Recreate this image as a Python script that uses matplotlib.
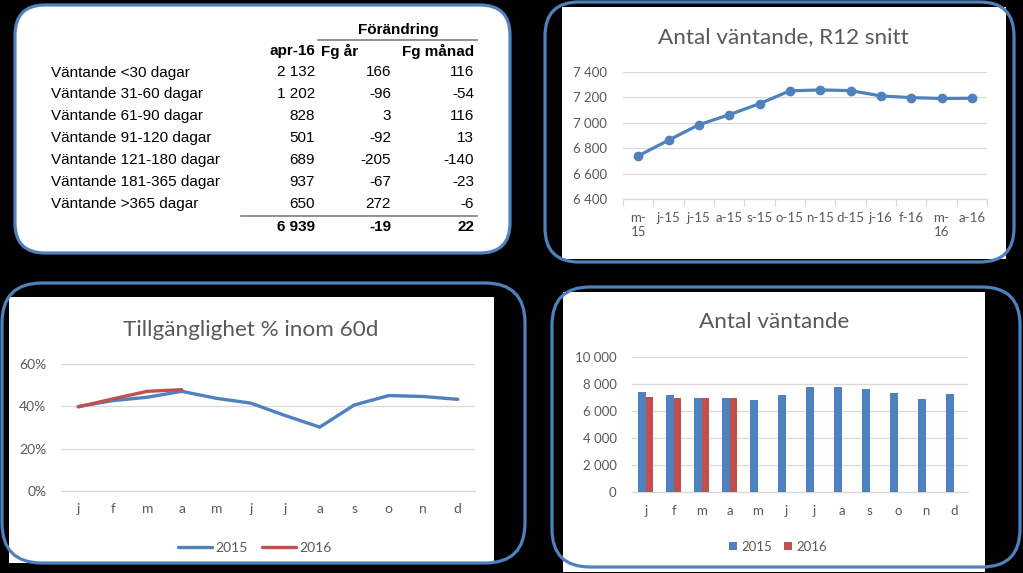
import matplotlib
matplotlib.use('Agg')
import matplotlib.pyplot as plt
from matplotlib.patches import FancyBboxPatch, Rectangle
from matplotlib.ticker import FuncFormatter, MultipleLocator, FixedLocator
import numpy as np

# ---------------- data ----------------
table_rows = ['Väntande <30 dagar', 'Väntande 31-60 dagar', 'Väntande 61-90 dagar',
              'Väntande 91-120 dagar', 'Väntande 121-180 dagar', 'Väntande 181-365 dagar',
              'Väntande >365 dagar']
apr16 = [2132, 1202, 828, 501, 689, 937, 650]
fg_ar = [166, -96, 3, -92, -205, -67, 272]
fg_manad = [116, -54, 116, 13, -140, -23, -6]

r12_labels = ['m-\n15', 'j-15', 'j-15', 'a-15', 's-15', 'o-15', 'n-15', 'd-15',
              'j-16', 'f-16', 'm-\n16', 'a-16']
r12_values = [6740, 6863, 6984, 7063, 7149, 7250, 7257, 7252, 7210, 7197, 7190, 7192]

months = ['j', 'f', 'm', 'a', 'm', 'j', 'j', 'a', 's', 'o', 'n', 'd']
avail_2015 = [0.400, 0.428, 0.444, 0.472, 0.439, 0.416, 0.357, 0.302, 0.407, 0.452, 0.4475, 0.434]
avail_2016 = [0.398, 0.436, 0.472, 0.480]

waiting_2015 = [7383, 7136, 6938, 6958, 6765, 7136, 7753, 7753, 7605, 7309, 6889, 7259]
waiting_2016 = [7012, 6938, 6917, 6939]

series_names = ['2015', '2016']

# ---------------- style ----------------
BLUE = '#4F81BD'
RED = '#C0504D'
BORDER = '#4F81BD'
GRID = '#D9D9D9'
TXT = '#595959'
CHART_FONT = ['Lato', 'DejaVu Sans']
TABLE_FONT = ['Liberation Sans', 'DejaVu Sans']
TITLE_FS = 16.2

W, H = 1023, 573
fig = plt.figure(figsize=(W / 100, H / 100), dpi=100, facecolor='black')


def rect(x0, y0, x1, y1):
    return [x0 / W, 1 - y1 / H, (x1 - x0) / W, (y1 - y0) / H]


def fmt_num(v):
    return f'{int(round(v)):,}'.replace(',', ' ')


bg = fig.add_axes([0, 0, 1, 1], zorder=0)
bg.set_xlim(0, W)
bg.set_ylim(H, 0)
bg.axis('off')

ov = fig.add_axes([0, 0, 1, 1], zorder=10)
ov.set_xlim(0, W)
ov.set_ylim(H, 0)
ov.axis('off')
ov.patch.set_alpha(0)

# white chart backgrounds
bg.add_patch(FancyBboxPatch((15, 5), 495, 248, boxstyle='round,pad=0,rounding_size=30',
                            facecolor='white', edgecolor='none'))
bg.add_patch(Rectangle((562, 7), 444, 252, facecolor='white', edgecolor='none'))
bg.add_patch(Rectangle((9, 297), 485, 266, facecolor='white', edgecolor='none'))
bg.add_patch(Rectangle((563, 292), 422, 280, facecolor='white', edgecolor='none'))

# rounded borders
for (x0, y0, x1, y1, r) in [(15, 5, 510, 253, 30), (545, 2, 1014, 262, 34),
                            (2, 283, 525, 563, 40), (552, 287, 1020, 567, 38)]:
    ov.add_patch(FancyBboxPatch((x0, y0), x1 - x0, y1 - y0,
                                boxstyle=f'round,pad=0,rounding_size={r}',
                                facecolor='none', edgecolor=BORDER, linewidth=2.3))

# ---------------- table ----------------
tfs = 11
bg.text(398, 30, 'Förändring', ha='center', va='center', fontsize=tfs, fontweight='bold',
        family=TABLE_FONT, color='black')
bg.plot([318, 477], [40, 40], color='#7F7F7F', lw=1.2)
bg.text(315, 51, 'apr-16', ha='right', va='center', fontsize=tfs, fontweight='bold', family=TABLE_FONT)
bg.text(321, 51, 'Fg år', ha='left', va='center', fontsize=tfs, fontweight='bold', family=TABLE_FONT)
bg.text(474, 51, 'Fg månad', ha='right', va='center', fontsize=tfs, fontweight='bold', family=TABLE_FONT)
row_y0, row_dy = 72.5, 21.85
for i, name in enumerate(table_rows):
    y = row_y0 + i * row_dy
    bg.text(51, y, name, ha='left', va='center', fontsize=tfs, family=TABLE_FONT)
    bg.text(315, y, fmt_num(apr16[i]), ha='right', va='center', fontsize=tfs, family=TABLE_FONT)
    bg.text(391, y, fmt_num(fg_ar[i]), ha='right', va='center', fontsize=tfs, family=TABLE_FONT)
    bg.text(474, y, fmt_num(fg_manad[i]), ha='right', va='center', fontsize=tfs, family=TABLE_FONT)
bg.plot([241, 477], [216, 216], color='#7F7F7F', lw=1.2)
ty = 227
bg.text(315, ty, fmt_num(sum(apr16)), ha='right', va='center', fontsize=tfs, fontweight='bold', family=TABLE_FONT)
bg.text(391, ty, fmt_num(sum(fg_ar)), ha='right', va='center', fontsize=tfs, fontweight='bold', family=TABLE_FONT)
bg.text(474, ty, fmt_num(sum(fg_manad)), ha='right', va='center', fontsize=tfs, fontweight='bold', family=TABLE_FONT)


def style_axes(ax, ypad, xpad, fs=9.5):
    ax.set_facecolor('none')
    for s in ['top', 'right', 'left']:
        ax.spines[s].set_visible(False)
    ax.spines['bottom'].set_color(GRID)
    ax.spines['bottom'].set_linewidth(0.9)
    ax.grid(axis='y', color=GRID, linewidth=0.9)
    ax.set_axisbelow(True)
    ax.tick_params(axis='y', length=0, pad=ypad, labelsize=fs, labelcolor=TXT)
    ax.tick_params(axis='x', which='major', length=0, pad=xpad, labelsize=fs, labelcolor=TXT)
    for lab in ax.get_xticklabels() + ax.get_yticklabels():
        lab.set_family(CHART_FONT)


# ---------------- R12 line chart ----------------
ax1 = fig.add_axes(rect(623, 71.7, 987, 199.3), zorder=2)
x12 = np.arange(len(r12_values))
ax1.plot(x12, r12_values, color=BLUE, lw=2.3, marker='o', markersize=6, zorder=3)
ax1.set_xlim(-0.5, 11.5)
ax1.set_ylim(6400, 7400)
ax1.yaxis.set_major_locator(MultipleLocator(200))
ax1.yaxis.set_major_formatter(FuncFormatter(lambda v, p: fmt_num(v)))
ax1.set_xticks(x12)
ax1.set_xticklabels(r12_labels)
ax1.xaxis.set_minor_locator(FixedLocator(np.arange(-0.5, 12, 1.0)))
ax1.tick_params(axis='x', which='minor', length=5, color=GRID, width=0.9)
style_axes(ax1, ypad=11.5, xpad=9.5)
bg.text(783.5, 43, 'Antal väntande, R12 snitt', ha='center', va='baseline', fontsize=TITLE_FS,
        color=TXT, family=CHART_FONT)

# ---------------- availability line chart ----------------
ax2 = fig.add_axes(rect(61, 364.4, 475, 490.7), zorder=2)
xm = np.arange(len(months))
l1, = ax2.plot(xm, avail_2015, color=BLUE, lw=2.4, solid_capstyle='round')
l2, = ax2.plot(xm[:len(avail_2016)], avail_2016, color=RED, lw=2.4, solid_capstyle='round')
ax2.set_xlim(-0.5, 11.5)
ax2.set_ylim(0, 0.6)
ax2.yaxis.set_major_locator(MultipleLocator(0.2))
ax2.yaxis.set_major_formatter(FuncFormatter(lambda v, p: f'{v * 100:.0f}%'))
ax2.set_xticks(xm)
ax2.set_xticklabels(months)
style_axes(ax2, ypad=10.5, xpad=9, fs=10)
bg.text(251, 335.8, 'Tillgänglighet % inom 60d', ha='center', va='baseline', fontsize=TITLE_FS,
        color=TXT, family=CHART_FONT)
fig.legend([l1, l2], series_names, loc='center', bbox_to_anchor=(255 / W, 1 - 548 / H), ncol=2,
           frameon=False, handlelength=2.45, handletextpad=0.25, columnspacing=1.0,
           prop={'family': CHART_FONT, 'size': 10}, labelcolor=TXT)

# ---------------- waiting bar chart ----------------
ax3 = fig.add_axes(rect(631.7, 356.7, 967.7, 491.7), zorder=2)
bw = 0.27
b1 = ax3.bar(xm - bw / 2, waiting_2015, bw, color=BLUE, zorder=3)
b2 = ax3.bar(xm[:len(waiting_2016)] + bw / 2, waiting_2016, bw, color=RED, zorder=3)
ax3.set_xlim(-0.5, 11.5)
ax3.set_ylim(0, 10000)
ax3.yaxis.set_major_locator(MultipleLocator(2000))
ax3.yaxis.set_major_formatter(FuncFormatter(lambda v, p: fmt_num(v)))
ax3.set_xticks(xm)
ax3.set_xticklabels(months)
style_axes(ax3, ypad=10.8, xpad=9.5)
bg.text(774.3, 328.3, 'Antal väntande', ha='center', va='baseline', fontsize=TITLE_FS,
        color=TXT, family=CHART_FONT)
fig.legend([b1, b2], series_names, loc='center', bbox_to_anchor=(778 / W, 1 - 546.7 / H), ncol=2,
           frameon=False, handlelength=0.6, handleheight=0.6, handletextpad=0.3, columnspacing=0.95,
           prop={'family': CHART_FONT, 'size': 9.5}, labelcolor=TXT)

fig.savefig('out.png', dpi=100, facecolor='black')
